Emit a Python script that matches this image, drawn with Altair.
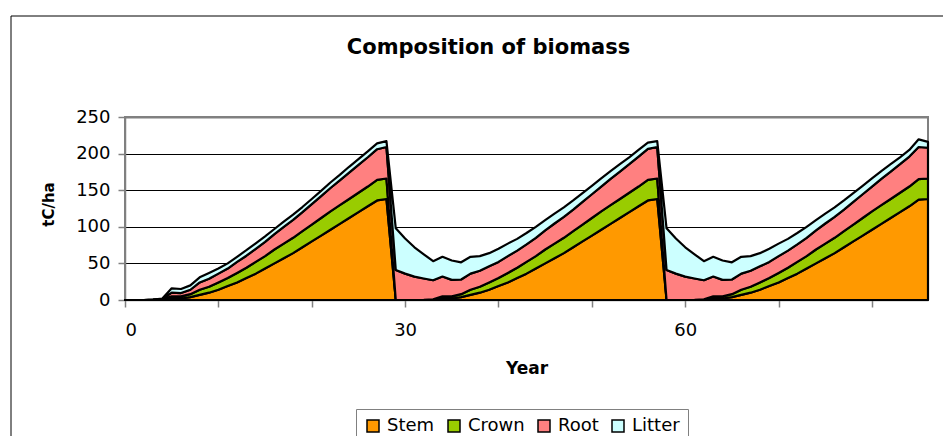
import altair as alt
import pandas as pd

# ---- data ----
years = list(range(87))
series_names = ["Stem", "Crown", "Root", "Litter"]
colors = ["#FF9900", "#99CC00", "#FF8080", "#CCFFFF"]

stem = [0, 0, 0, 0.2, 0.5, 2, 2, 4, 7, 10, 14, 19, 24, 30, 36, 43, 50, 57, 64, 72,
        80, 88, 96, 104, 112, 120, 128, 136, 138,
        0, 0, 0, 0.2, 0.5, 2, 2, 4, 7, 10, 14, 19, 24, 30, 36, 43, 50, 57, 64, 72,
        80, 88, 96, 104, 112, 120, 128, 136, 138,
        0, 0, 0, 0.2, 0.5, 2, 2, 4, 7, 10, 14, 19, 24, 30, 36, 43, 50, 57, 64, 72,
        80, 88, 96, 104, 112, 120, 128, 137, 138]

crown = [0, 0, 0, 0.1, 0.5, 3, 3, 4, 7, 8, 10, 11, 13, 14, 16, 17, 19, 20, 21, 22,
         23, 24, 25, 25.5, 26, 26.5, 27, 28, 28,
         0, 0, 0, 0.1, 0.5, 3, 3, 4, 7, 8, 10, 11, 13, 14, 16, 17, 19, 20, 21, 22,
         23, 24, 25, 25.5, 26, 26.5, 27, 28, 28,
         0, 0, 0, 0.1, 0.5, 3, 3, 4, 7, 8, 10, 11, 13, 14, 16, 17, 19, 20, 21, 22,
         23, 24, 25, 25.5, 26, 26.5, 27, 28, 28]

root = [0, 0, 0, 0.1, 0.5, 5, 4.5, 6, 10, 11, 12, 13, 15, 16.5, 18, 19.5, 21, 23, 24.5, 26,
        28, 30, 32, 34, 36, 38, 40, 42, 43,
        41, 36, 32, 29.1, 26, 27, 22.5, 20, 22, 22, 22, 22, 23, 23.5, 24, 25, 26, 27.5, 28.5, 29.5,
        31, 32.5, 34, 36, 37.5, 39, 41, 42.5, 43,
        41, 36, 32, 29.1, 26, 27, 22.5, 20, 22, 22, 22, 22, 23, 23.5, 24, 25, 26, 27.5, 28.5, 29.5,
        31, 32.5, 34, 36, 37.5, 39, 41, 44, 42]

litter = [0, 0, 0, 0.1, 0.5, 6, 5.5, 6, 7, 8, 7, 7, 7, 7.5, 7.5, 7.5, 7, 7, 7, 7,
          7, 7, 7.5, 7.5, 8, 8, 8, 8, 8,
          57, 48, 40, 33, 26, 27, 26.5, 23.5, 23, 20, 18, 18, 17, 16, 15.5, 15, 14, 13.5, 13, 12.5,
          12, 11.5, 11, 10.5, 10, 9.5, 9, 8.5, 8,
          57, 48, 40, 33, 26, 27, 26.5, 23.5, 23, 20, 18, 18, 17, 16, 15.5, 15, 14, 13.5, 13, 12.5,
          12, 11.5, 11, 10.5, 10, 9.5, 9, 10.5, 8]

x_ticks = [0, 10, 20, 30, 40, 50, 60, 70, 80]
y_ticks = [0, 50, 100, 150, 200, 250]

rows = []
for i, yr in enumerate(years):
    for k, (name, vals) in enumerate(zip(series_names, [stem, crown, root, litter])):
        rows.append({"Year": yr, "Series": name, "tC": vals[i], "order": k})
df = pd.DataFrame(rows)

W, H = 803, 183
FONT = "DejaVu Sans"

common_axis = dict(labelFont=FONT, labelFontSize=18, labelColor="black",
                   titleFont=FONT, titleFontWeight="bold", titleColor="black",
                   domainColor="#808080", domainWidth=1.5, tickColor="#808080",
                   tickSize=7, tickWidth=1.5)

area = alt.Chart(df).mark_area(stroke="black", strokeWidth=2.2, strokeJoin="round", opacity=1).encode(
    x=alt.X("Year:Q",
            scale=alt.Scale(domain=[0, 86], nice=False, zero=False),
            axis=alt.Axis(values=x_ticks, grid=False,
                          labelExpr="datum.value % 30 === 0 ? datum.label : ''",
                          labelPadding=14, title="Year", titleFontSize=17,
                          titleX=W / 2, titleY=68, titleBaseline="middle", **common_axis)),
    y=alt.Y("tC:Q", stack="zero",
            scale=alt.Scale(domain=[0, 250], nice=False),
            axis=alt.Axis(values=y_ticks, grid=True,
                          gridColor={"condition": {"test": "datum.value === 250", "value": "#808080"},
                                     "value": "black"},
                          gridWidth={"condition": {"test": "datum.value === 250", "value": 2},
                                     "value": 1},
                          labelPadding=8,
                          title="tC/ha", titleFontSize=15, titleAngle=270,
                          titleX=-77, titleY=87, titleAlign="center", titleBaseline="middle",
                          **common_axis)),
    color=alt.Color("Series:N",
                    scale=alt.Scale(domain=series_names, range=colors),
                    legend=alt.Legend(title=None, orient="none", legendX=231, legendY=292,
                                      direction="horizontal", symbolType="square", symbolSize=144,
                                      symbolStrokeColor="black", symbolStrokeWidth=1.5,
                                      labelFont=FONT, labelFontSize=18, labelColor="black",
                                      labelOffset=5, columnPadding=10, padding=8,
                                      strokeColor="#808080", fillColor="white")),
    order=alt.Order("order:Q", sort="ascending"),
)

frame = alt.Chart(pd.DataFrame({"a": [0]})).mark_rect(
    fill="white", fillOpacity=0, stroke="black", strokeWidth=1
).encode(x=alt.value(-114), x2=alt.value(W + 40), y=alt.value(-101), y2=alt.value(H + 200))

chart = alt.layer(frame, area).properties(
    width=W, height=H,
    title=alt.TitleParams("Composition of biomass", font=FONT, fontSize=21, fontWeight="bold",
                          color="black", anchor="middle", frame="group", dx=-38,
                          offset=-59, baseline="alphabetic"),
    padding={"left": 117, "top": 109, "right": 15, "bottom": 136},
    autosize=alt.AutoSizeParams(type="none"),
    background="white",
).configure_view(
    stroke="#808080", strokeWidth=2
)

chart.save("out.html", embed_options={"renderer": "svg", "actions": False})
